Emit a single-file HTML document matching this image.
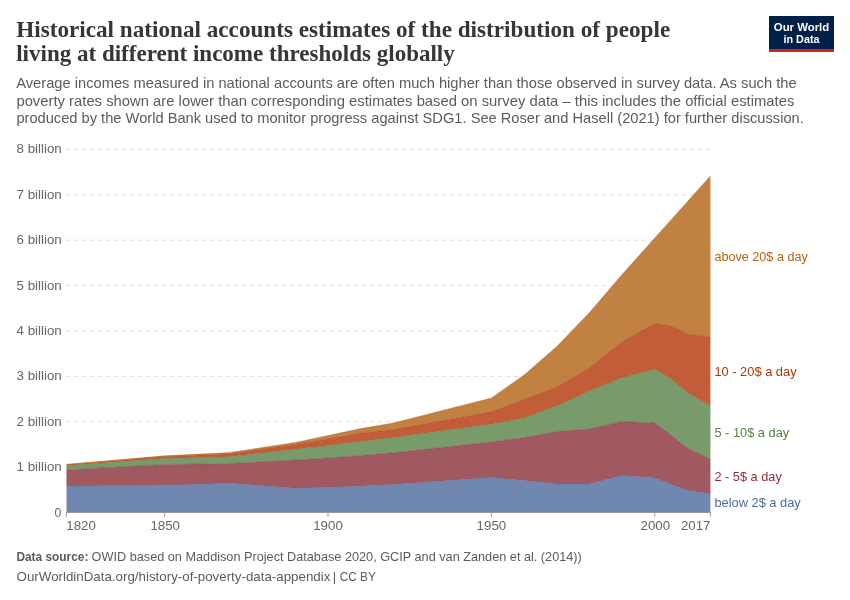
<!DOCTYPE html>
<html lang="en"><head><meta charset="utf-8"><title>Historical national accounts estimates</title>
<style>html,body{margin:0;padding:0;background:#fff}body{width:850px;height:600px;overflow:hidden}</style></head>
<body>
<svg width="850" height="600" viewBox="0 0 850 600" style="display:block">
<rect width="850" height="600" fill="#fff"/>
<g font-family="'Liberation Serif', serif" font-weight="700" font-size="23.4" fill="#363636">
<text x="16.2" y="36.7" textLength="654" lengthAdjust="spacingAndGlyphs">Historical national accounts estimates of the distribution of people</text>
<text x="16.2" y="61.1" textLength="438.6" lengthAdjust="spacingAndGlyphs">living at different income thresholds globally</text>
</g>
<g font-family="'Liberation Sans', sans-serif" font-size="14.5" fill="#5b5b5b">
<text x="16.2" y="88.2" textLength="780.4" lengthAdjust="spacingAndGlyphs">Average incomes measured in national accounts are often much higher than those observed in survey data. As such the</text>
<text x="16.4" y="105.8" textLength="778" lengthAdjust="spacingAndGlyphs">poverty rates shown are lower than corresponding estimates based on survey data – this includes the official estimates</text>
<text x="16.4" y="123" textLength="787.4" lengthAdjust="spacingAndGlyphs">produced by the World Bank used to monitor progress against SDG1. See Roser and Hasell (2021) for further discussion.</text>
</g>
<rect x="769" y="16" width="65" height="36" fill="#002147"/>
<rect x="769" y="49" width="65" height="3" fill="#ce261e"/>
<g font-family="'Liberation Sans', sans-serif" font-weight="700" font-size="11.8" fill="#fff" text-anchor="middle">
<text x="801.5" y="30.5" textLength="55.4" lengthAdjust="spacingAndGlyphs">Our World</text>
<text x="801.5" y="42.5" textLength="36" lengthAdjust="spacingAndGlyphs">in Data</text>
</g>
<g stroke="#ddd" stroke-width="1" stroke-dasharray="4.3,3.7" fill="none">
<line x1="66" y1="467.1" x2="710.4" y2="467.1"/>
<line x1="66" y1="421.8" x2="710.4" y2="421.8"/>
<line x1="66" y1="376.4" x2="710.4" y2="376.4"/>
<line x1="66" y1="331.0" x2="710.4" y2="331.0"/>
<line x1="66" y1="285.6" x2="710.4" y2="285.6"/>
<line x1="66" y1="240.2" x2="710.4" y2="240.2"/>
<line x1="66" y1="194.9" x2="710.4" y2="194.9"/>
<line x1="66" y1="149.5" x2="710.4" y2="149.5"/>
</g>
<g font-family="'Liberation Sans', sans-serif" font-size="12.4" fill="#666">
<text x="16.6" y="471.0" textLength="45.2" lengthAdjust="spacingAndGlyphs">1 billion</text>
<text x="16.6" y="425.6" textLength="45.2" lengthAdjust="spacingAndGlyphs">2 billion</text>
<text x="16.6" y="380.3" textLength="45.2" lengthAdjust="spacingAndGlyphs">3 billion</text>
<text x="16.6" y="334.9" textLength="45.2" lengthAdjust="spacingAndGlyphs">4 billion</text>
<text x="16.6" y="289.5" textLength="45.2" lengthAdjust="spacingAndGlyphs">5 billion</text>
<text x="16.6" y="244.2" textLength="45.2" lengthAdjust="spacingAndGlyphs">6 billion</text>
<text x="16.6" y="198.8" textLength="45.2" lengthAdjust="spacingAndGlyphs">7 billion</text>
<text x="16.6" y="153.4" textLength="45.2" lengthAdjust="spacingAndGlyphs">8 billion</text>
<text x="54.4" y="516.5" textLength="6.8" lengthAdjust="spacingAndGlyphs">0</text>
</g>
<path d="M66.5,486.0 L164.6,485.4 L229.9,483.2 L295.3,488.3 L328.0,487.4 L360.7,486.0 L393.4,484.6 L491.4,477.6 L524.1,480.4 L556.8,484.0 L589.5,484.0 L622.1,475.5 L654.8,478.0 L671.2,484.4 L687.5,490.4 L710.4,493.8 L710.4,512.5 L687.5,512.5 L671.2,512.5 L654.8,512.5 L622.1,512.5 L589.5,512.5 L556.8,512.5 L524.1,512.5 L491.4,512.5 L393.4,512.5 L360.7,512.5 L328.0,512.5 L295.3,512.5 L229.9,512.5 L164.6,512.5 L66.5,512.5Z" fill="#4C6A9C" fill-opacity="0.8"/>
<path d="M66.5,470.0 L164.6,464.4 L229.9,463.6 L295.3,460.0 L328.0,458.0 L360.7,455.6 L393.4,452.8 L491.4,442.0 L524.1,437.6 L556.8,431.6 L589.5,429.0 L622.1,421.4 L654.8,423.0 L671.2,435.0 L687.5,448.2 L710.4,459.2 L710.4,493.8 L687.5,490.4 L671.2,484.4 L654.8,478.0 L622.1,475.5 L589.5,484.0 L556.8,484.0 L524.1,480.4 L491.4,477.6 L393.4,484.6 L360.7,486.0 L328.0,487.4 L295.3,488.3 L229.9,483.2 L164.6,485.4 L66.5,486.0Z" fill="#883039" fill-opacity="0.8"/>
<path d="M66.5,465.5 L164.6,458.5 L229.9,456.8 L295.3,449.3 L328.0,445.6 L360.7,441.4 L393.4,437.6 L491.4,424.2 L524.1,418.0 L556.8,406.0 L589.5,391.0 L622.1,377.8 L654.8,369.2 L671.2,379.0 L687.5,393.0 L710.4,405.6 L710.4,459.2 L687.5,448.2 L671.2,435.0 L654.8,423.0 L622.1,421.4 L589.5,429.0 L556.8,431.6 L524.1,437.6 L491.4,442.0 L393.4,452.8 L360.7,455.6 L328.0,458.0 L295.3,460.0 L229.9,463.6 L164.6,464.4 L66.5,470.0Z" fill="#578145" fill-opacity="0.8"/>
<path d="M66.5,464.7 L164.6,456.4 L229.9,453.8 L295.3,444.4 L328.0,439.0 L360.7,433.0 L393.4,429.6 L491.4,411.8 L524.1,399.5 L556.8,387.0 L589.5,368.0 L622.1,341.5 L654.8,323.6 L671.2,326.0 L687.5,334.0 L710.4,337.0 L710.4,405.6 L687.5,393.0 L671.2,379.0 L654.8,369.2 L622.1,377.8 L589.5,391.0 L556.8,406.0 L524.1,418.0 L491.4,424.2 L393.4,437.6 L360.7,441.4 L328.0,445.6 L295.3,449.3 L229.9,456.8 L164.6,458.5 L66.5,465.5Z" fill="#B13507" fill-opacity="0.8"/>
<path d="M66.5,464.3 L164.6,455.8 L229.9,452.6 L295.3,442.4 L328.0,435.6 L360.7,428.6 L393.4,423.0 L491.4,398.0 L524.1,375.0 L556.8,346.4 L589.5,312.4 L622.1,274.5 L654.8,237.9 L671.2,219.7 L687.5,201.5 L710.4,176.0 L710.4,337.0 L687.5,334.0 L671.2,326.0 L654.8,323.6 L622.1,341.5 L589.5,368.0 L556.8,387.0 L524.1,399.5 L491.4,411.8 L393.4,429.6 L360.7,433.0 L328.0,439.0 L295.3,444.4 L229.9,453.8 L164.6,456.4 L66.5,464.7Z" fill="#B16214" fill-opacity="0.8"/>
<path d="M66.5,486.0 L164.6,485.4 L229.9,483.2 L295.3,488.3 L328.0,487.4 L360.7,486.0 L393.4,484.6 L491.4,477.6 L524.1,480.4 L556.8,484.0 L589.5,484.0 L622.1,475.5 L654.8,478.0 L671.2,484.4 L687.5,490.4 L710.4,493.8" fill="none" stroke="#4C6A9C" stroke-width="0.5" stroke-opacity="0.7"/>
<path d="M66.5,470.0 L164.6,464.4 L229.9,463.6 L295.3,460.0 L328.0,458.0 L360.7,455.6 L393.4,452.8 L491.4,442.0 L524.1,437.6 L556.8,431.6 L589.5,429.0 L622.1,421.4 L654.8,423.0 L671.2,435.0 L687.5,448.2 L710.4,459.2" fill="none" stroke="#883039" stroke-width="0.5" stroke-opacity="0.7"/>
<path d="M66.5,465.5 L164.6,458.5 L229.9,456.8 L295.3,449.3 L328.0,445.6 L360.7,441.4 L393.4,437.6 L491.4,424.2 L524.1,418.0 L556.8,406.0 L589.5,391.0 L622.1,377.8 L654.8,369.2 L671.2,379.0 L687.5,393.0 L710.4,405.6" fill="none" stroke="#578145" stroke-width="0.5" stroke-opacity="0.7"/>
<path d="M66.5,464.7 L164.6,456.4 L229.9,453.8 L295.3,444.4 L328.0,439.0 L360.7,433.0 L393.4,429.6 L491.4,411.8 L524.1,399.5 L556.8,387.0 L589.5,368.0 L622.1,341.5 L654.8,323.6 L671.2,326.0 L687.5,334.0 L710.4,337.0" fill="none" stroke="#B13507" stroke-width="0.5" stroke-opacity="0.7"/>
<path d="M66.5,464.3 L164.6,455.8 L229.9,452.6 L295.3,442.4 L328.0,435.6 L360.7,428.6 L393.4,423.0 L491.4,398.0 L524.1,375.0 L556.8,346.4 L589.5,312.4 L622.1,274.5 L654.8,237.9 L671.2,219.7 L687.5,201.5 L710.4,176.0" fill="none" stroke="#B16214" stroke-width="0.5" stroke-opacity="0.7"/>
<line x1="66.5" y1="512.5" x2="710.4" y2="512.5" stroke="#999" stroke-width="1"/>
<g stroke="#a0a0a0" stroke-width="1">
<line x1="66.5" y1="512" x2="66.5" y2="517"/>
<line x1="164.6" y1="512" x2="164.6" y2="517"/>
<line x1="328.0" y1="512" x2="328.0" y2="517"/>
<line x1="491.4" y1="512" x2="491.4" y2="517"/>
<line x1="654.8" y1="512" x2="654.8" y2="517"/>
<line x1="710.4" y1="512" x2="710.4" y2="517"/>
</g>
<g font-family="'Liberation Sans', sans-serif" font-size="12.4" fill="#666">
<text x="66.3" y="530.2" textLength="29.6" lengthAdjust="spacingAndGlyphs">1820</text>
<text x="150.4" y="530.2" textLength="29.6" lengthAdjust="spacingAndGlyphs">1850</text>
<text x="313.2" y="530.2" textLength="29.6" lengthAdjust="spacingAndGlyphs">1900</text>
<text x="476.6" y="530.2" textLength="29.6" lengthAdjust="spacingAndGlyphs">1950</text>
<text x="640.5" y="530.2" textLength="29.6" lengthAdjust="spacingAndGlyphs">2000</text>
<text x="680.9" y="530.2" textLength="29.6" lengthAdjust="spacingAndGlyphs">2017</text>
</g>
<g font-family="'Liberation Sans', sans-serif" font-size="13">
<text x="714.4" y="261.2" textLength="93.4" lengthAdjust="spacingAndGlyphs" fill="#B16214">above 20$ a day</text>
<text x="714.4" y="376.2" textLength="82.2" lengthAdjust="spacingAndGlyphs" fill="#B13507">10 - 20$ a day</text>
<text x="714.4" y="437.0" textLength="74.8" lengthAdjust="spacingAndGlyphs" fill="#578145">5 - 10$ a day</text>
<text x="714.4" y="480.9" textLength="67.4" lengthAdjust="spacingAndGlyphs" fill="#883039">2 - 5$ a day</text>
<text x="714.4" y="507.4" textLength="86.4" lengthAdjust="spacingAndGlyphs" fill="#4C6A9C">below 2$ a day</text>
</g>
<g font-family="'Liberation Sans', sans-serif" font-size="13" fill="#5b5b5b">
<text x="16.4" y="560.7" textLength="72" lengthAdjust="spacingAndGlyphs" font-weight="700">Data source:</text>
<text x="91.6" y="560.7" textLength="490.2" lengthAdjust="spacingAndGlyphs">OWID based on Maddison Project Database 2020, GCIP and van Zanden et al. (2014))</text>
<text x="16.6" y="580.7" textLength="313.8" lengthAdjust="spacingAndGlyphs">OurWorldinData.org/history-of-poverty-data-appendix</text>
<text x="332.8" y="580.7">|</text>
<text x="339.8" y="580.7" textLength="36" lengthAdjust="spacingAndGlyphs">CC BY</text>
</g>
</svg>
</body></html>
